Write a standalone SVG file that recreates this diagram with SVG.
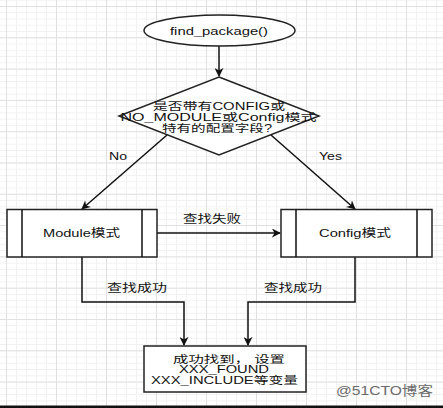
<svg xmlns="http://www.w3.org/2000/svg" width="443" height="408" viewBox="0 0 443 408">
<style>
.t{font-family:"Liberation Sans","Noto Sans CJK SC",sans-serif;font-size:11px;fill:#111;text-anchor:middle}
.m{font-size:10px}
.s{fill:#fff;stroke:#222;stroke-width:1.5}
.c{fill:none;stroke:#111;stroke-width:1.5}
</style>
<defs>
<pattern id="minor" x="6" y="6" width="10" height="6.26" patternUnits="userSpaceOnUse">
<path d="M0.5 0V6.26M0 0.5H10" stroke="#f1f1f1" stroke-width="1" fill="none"/>
</pattern>
<pattern id="major" x="6" y="6" width="50" height="31.3" patternUnits="userSpaceOnUse">
<path d="M0.5 0V31.3M0 0.5H50" stroke="#e0e0e0" stroke-width="1" fill="none"/>
</pattern>
<marker id="ah" viewBox="0 0 10 10" refX="9" refY="5" markerWidth="9" markerHeight="9" markerUnits="userSpaceOnUse" orient="auto">
<path d="M0 0L10 5L0 10L3 5Z" fill="#111"/>
</marker>
</defs>
<rect width="443" height="408" fill="#fff"/>
<rect width="443" height="408" fill="url(#minor)"/>
<rect width="443" height="408" fill="url(#major)"/>
<rect x="0" y="405.5" width="443" height="2.5" fill="#111"/>

<g id="connectors">
<path class="c" d="M219 46V76" marker-end="url(#ah)"/>
<path class="c" d="M167 135L82 209" marker-end="url(#ah)"/>
<path class="c" d="M271 135L355 209" marker-end="url(#ah)"/>
<path class="c" d="M157 233H280" marker-end="url(#ah)"/>
<path class="c" d="M82 257V302H184V345" marker-end="url(#ah)"/>
<path class="c" d="M355 257V302H248V345" marker-end="url(#ah)"/>
<text class="t" x="118" y="160" textLength="18" lengthAdjust="spacingAndGlyphs">No</text>
<text class="t" x="330.5" y="160" textLength="23" lengthAdjust="spacingAndGlyphs">Yes</text>
<text class="t" x="212" y="223" textLength="58" lengthAdjust="spacingAndGlyphs">查找失败</text>
<text class="t" x="137" y="292" textLength="60" lengthAdjust="spacingAndGlyphs">查找成功</text>
<text class="t" x="293" y="292" textLength="58" lengthAdjust="spacingAndGlyphs">查找成功</text>
</g>

<g id="start">
<ellipse class="s" cx="219.5" cy="30.5" rx="75.5" ry="15.5"/>
<text class="t" x="219" y="34.5" textLength="98" lengthAdjust="spacingAndGlyphs">find_package()</text>
</g>

<g id="decision">
<path class="s" d="M219 77L319 116L219 155L119 116Z"/>
<text class="t m" x="219" y="110" textLength="132" lengthAdjust="spacingAndGlyphs">是否带有CONFIG或</text>
<text class="t m" x="218.5" y="121" textLength="196" lengthAdjust="spacingAndGlyphs">NO_MODULE或Config模式</text>
<text class="t m" x="217" y="132" textLength="110" lengthAdjust="spacingAndGlyphs">特有的配置字段?</text>
</g>

<g id="module">
<rect class="s" x="7" y="209.5" width="150" height="47.5"/>
<path class="c" stroke="#222" d="M22 209.5V257M142 209.5V257"/>
<text class="t" x="81.5" y="237" textLength="77" lengthAdjust="spacingAndGlyphs">Module模式</text>
</g>

<g id="config">
<rect class="s" x="281" y="209.5" width="151" height="47.5"/>
<path class="c" stroke="#222" d="M296 209.5V257M417 209.5V257"/>
<text class="t" x="355" y="237" textLength="72" lengthAdjust="spacingAndGlyphs">Config模式</text>
</g>

<g id="result">
<rect class="s" x="144" y="346" width="162" height="46"/>
<text class="t m" x="229" y="362.5" textLength="112" lengthAdjust="spacingAndGlyphs">成功找到， 设置</text>
<text class="t m" x="224" y="373" textLength="90" lengthAdjust="spacingAndGlyphs">XXX_FOUND</text>
<text class="t m" x="224.5" y="383.5" textLength="147" lengthAdjust="spacingAndGlyphs">XXX_INCLUDE等变量</text>
</g>

<text x="384.5" y="395" font-family="Liberation Sans,Noto Sans CJK SC,sans-serif" font-size="13" fill="#6a6a6a" text-anchor="middle" textLength="97" lengthAdjust="spacingAndGlyphs">@51CTO博客</text>
</svg>
